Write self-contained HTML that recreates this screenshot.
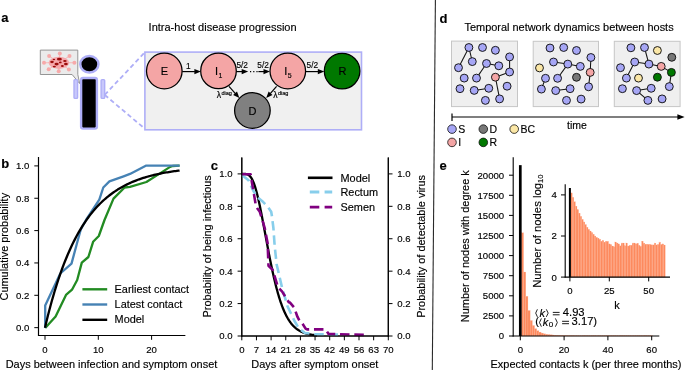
<!DOCTYPE html>
<html><head><meta charset="utf-8"><style>
html,body{margin:0;padding:0;background:#fff;}
svg{display:block;will-change:transform;}
text{font-family:"Liberation Sans", sans-serif;stroke:currentColor;stroke-width:0.15px;}

</style></head><body>
<svg width="685" height="370" viewBox="0 0 685 370">
<rect x="0" y="0" width="685" height="370" fill="#fff"/>
<text x="1.20" y="21.60" font-size="13" text-anchor="start" font-weight="bold" fill="#000" >a</text>
<text x="148.60" y="30.90" font-size="11" text-anchor="start" fill="#000" >Intra-host disease progression</text>
<path d="M40.3,50.1 H77.8 V74.5 L79.7,83.6 L72.1,74.5 H40.3 Z" fill="#ebebeb" stroke="#8a8a8a" stroke-width="0.9"/>
<line x1="59.30" y1="62.60" x2="49.10" y2="56.00" stroke="#f7a9a9" stroke-width="0.8" />
<line x1="59.30" y1="62.60" x2="59.80" y2="53.50" stroke="#f7a9a9" stroke-width="0.8" />
<line x1="59.30" y1="62.60" x2="69.50" y2="56.00" stroke="#f7a9a9" stroke-width="0.8" />
<line x1="59.30" y1="62.60" x2="44.00" y2="62.80" stroke="#f7a9a9" stroke-width="0.8" />
<line x1="59.30" y1="62.60" x2="74.40" y2="62.80" stroke="#f7a9a9" stroke-width="0.8" />
<line x1="59.30" y1="62.60" x2="48.70" y2="69.20" stroke="#f7a9a9" stroke-width="0.8" />
<line x1="59.30" y1="62.60" x2="58.70" y2="71.30" stroke="#f7a9a9" stroke-width="0.8" />
<line x1="59.30" y1="62.60" x2="68.90" y2="69.40" stroke="#f7a9a9" stroke-width="0.8" />
<circle cx="49.1" cy="56" r="2.0" fill="#f7a9a9"/>
<circle cx="59.8" cy="53.5" r="2.0" fill="#f7a9a9"/>
<circle cx="69.5" cy="56" r="2.0" fill="#f7a9a9"/>
<circle cx="44" cy="62.8" r="2.0" fill="#f7a9a9"/>
<circle cx="74.4" cy="62.8" r="2.0" fill="#f7a9a9"/>
<circle cx="48.7" cy="69.2" r="2.0" fill="#f7a9a9"/>
<circle cx="58.7" cy="71.3" r="2.0" fill="#f7a9a9"/>
<circle cx="68.9" cy="69.4" r="2.0" fill="#f7a9a9"/>
<ellipse cx="58.9" cy="62.8" rx="10.3" ry="6.1" fill="#f6a8ac"/>
<ellipse cx="53.9" cy="59.5" rx="1.3" ry="0.8" fill="#9b0d0d"/>
<ellipse cx="59.4" cy="59.2" rx="2.5" ry="1.35" fill="#9b0d0d"/>
<ellipse cx="64.9" cy="61.0" rx="1.8" ry="1.1" fill="#9b0d0d"/>
<ellipse cx="52.0" cy="62.0" rx="1.8" ry="1.15" fill="#9b0d0d"/>
<ellipse cx="60.3" cy="62.4" rx="1.4" ry="0.85" fill="#9b0d0d"/>
<ellipse cx="56.6" cy="64.1" rx="2.1" ry="1.45" fill="#9b0d0d"/>
<ellipse cx="65.9" cy="64.1" rx="1.9" ry="1.25" fill="#9b0d0d"/>
<ellipse cx="54.3" cy="66.6" rx="1.6" ry="0.95" fill="#9b0d0d"/>
<ellipse cx="62.4" cy="66.0" rx="1.5" ry="1.05" fill="#9b0d0d"/>
<ellipse cx="89.35" cy="64.2" rx="9.1" ry="8.3" fill="#000" stroke="#aeaef7" stroke-width="2.5"/>
<rect x="81.1" y="78.0" width="15.8" height="50.6" rx="2" fill="#000" stroke="#aeaef7" stroke-width="2.4"/>
<rect x="74.0" y="79.6" width="3.6" height="18.8" rx="1.0" fill="#c8c8fb" stroke="#aeaef7" stroke-width="1.4"/>
<rect x="101.1" y="79.6" width="3.6" height="18.8" rx="1.0" fill="#c8c8fb" stroke="#aeaef7" stroke-width="1.4"/>
<line x1="104.70" y1="94.90" x2="144.90" y2="52.30" stroke="#aeaef7" stroke-width="1.8" stroke-dasharray="4.5,3"/>
<line x1="104.70" y1="94.90" x2="144.90" y2="128.80" stroke="#aeaef7" stroke-width="1.8" stroke-dasharray="4.5,3"/>
<rect x="144.9" y="52.1" width="216.6" height="77.7" fill="#f0f0f0" stroke="#aeaef7" stroke-width="1.6"/>
<line x1="182.20" y1="71.60" x2="194.90" y2="71.60" stroke="#000" stroke-width="1.2" />
<path d="M200.90,71.60 L194.40,74.20 L194.40,69.00 Z" fill="#000"/>
<line x1="236.20" y1="71.60" x2="242.20" y2="71.60" stroke="#000" stroke-width="1.2" />
<path d="M248.20,71.60 L241.70,74.20 L241.70,69.00 Z" fill="#000"/>
<line x1="250" y1="71.6" x2="258" y2="71.6" stroke="#000" stroke-width="1.2" stroke-dasharray="1.2,2.0"/>
<line x1="258.40" y1="71.60" x2="264.00" y2="71.60" stroke="#000" stroke-width="1.2" />
<path d="M270.00,71.60 L263.50,74.20 L263.50,69.00 Z" fill="#000"/>
<line x1="305.60" y1="71.60" x2="318.30" y2="71.60" stroke="#000" stroke-width="1.2" />
<path d="M324.30,71.60 L317.80,74.20 L317.80,69.00 Z" fill="#000"/>
<line x1="229.00" y1="86.40" x2="235.39" y2="93.53" stroke="#000" stroke-width="1.2" />
<path d="M239.40,98.00 L233.13,94.90 L237.00,91.42 Z" fill="#000"/>
<line x1="276.60" y1="86.40" x2="270.21" y2="93.53" stroke="#000" stroke-width="1.2" />
<path d="M266.20,98.00 L268.60,91.42 L272.47,94.90 Z" fill="#000"/>
<circle cx="164.3" cy="71.0" r="17.8" fill="#f4a5a5" stroke="#000" stroke-width="1.25"/>
<circle cx="218.5" cy="70.9" r="17.8" fill="#f4a5a5" stroke="#000" stroke-width="1.25"/>
<circle cx="287.8" cy="71.0" r="17.8" fill="#f4a5a5" stroke="#000" stroke-width="1.25"/>
<circle cx="342.1" cy="71.1" r="17.8" fill="#007800" stroke="#000" stroke-width="1.25"/>
<circle cx="252.4" cy="110.5" r="17.8" fill="#808080" stroke="#000" stroke-width="1.25"/>
<text x="164.30" y="75.40" font-size="11" text-anchor="middle" fill="#000" >E</text>
<text x="218.00" y="75.40" font-size="11" text-anchor="end" fill="#000" >I</text>
<text x="218.60" y="77.60" font-size="6.9" text-anchor="start" fill="#000" >1</text>
<text x="287.30" y="75.40" font-size="11" text-anchor="end" fill="#000" >I</text>
<text x="287.70" y="77.80" font-size="7.0" text-anchor="start" fill="#000" >5</text>
<text x="342.40" y="75.00" font-size="11" text-anchor="middle" fill="#000" >R</text>
<text x="252.40" y="115.00" font-size="11" text-anchor="middle" fill="#000" >D</text>
<text x="188.30" y="68.60" font-size="8.3" text-anchor="middle" fill="#000" >1</text>
<text x="242.20" y="68.40" font-size="8.3" text-anchor="middle" fill="#000" >5/2</text>
<text x="263.10" y="68.40" font-size="8.3" text-anchor="middle" fill="#000" >5/2</text>
<text x="312.30" y="68.40" font-size="8.3" text-anchor="middle" fill="#000" >5/2</text>
<text x="216.70" y="97.60" font-size="8.6" text-anchor="start" fill="#000" >&#955;</text>
<text x="221.40" y="94.80" font-size="5.6" text-anchor="start" fill="#000" >diag</text>
<text x="273.20" y="97.60" font-size="8.6" text-anchor="start" fill="#000" >&#955;</text>
<text x="277.90" y="94.80" font-size="5.6" text-anchor="start" fill="#000" >diag</text>
<text x="1.30" y="168.00" font-size="13" text-anchor="start" font-weight="bold" fill="#000" >b</text>
<line x1="38.50" y1="157.00" x2="38.50" y2="336.00" stroke="#000" stroke-width="1.1" />
<line x1="38.00" y1="335.50" x2="185.20" y2="335.50" stroke="#000" stroke-width="1.1" />
<line x1="34.30" y1="327.65" x2="38.50" y2="327.65" stroke="#000" stroke-width="1.0" />
<text x="29.30" y="331.05" font-size="9.6" text-anchor="end" fill="#000"  class="tk">0.0</text>
<line x1="34.30" y1="295.30" x2="38.50" y2="295.30" stroke="#000" stroke-width="1.0" />
<text x="29.30" y="298.70" font-size="9.6" text-anchor="end" fill="#000"  class="tk">0.2</text>
<line x1="34.30" y1="262.95" x2="38.50" y2="262.95" stroke="#000" stroke-width="1.0" />
<text x="29.30" y="266.35" font-size="9.6" text-anchor="end" fill="#000"  class="tk">0.4</text>
<line x1="34.30" y1="230.60" x2="38.50" y2="230.60" stroke="#000" stroke-width="1.0" />
<text x="29.30" y="234.00" font-size="9.6" text-anchor="end" fill="#000"  class="tk">0.6</text>
<line x1="34.30" y1="198.25" x2="38.50" y2="198.25" stroke="#000" stroke-width="1.0" />
<text x="29.30" y="201.65" font-size="9.6" text-anchor="end" fill="#000"  class="tk">0.8</text>
<line x1="34.30" y1="165.90" x2="38.50" y2="165.90" stroke="#000" stroke-width="1.0" />
<text x="29.30" y="169.30" font-size="9.6" text-anchor="end" fill="#000"  class="tk">1.0</text>
<line x1="45.00" y1="335.50" x2="45.00" y2="339.80" stroke="#000" stroke-width="1.0" />
<text x="45.00" y="352.60" font-size="9.6" text-anchor="middle" fill="#000"  class="tk">0</text>
<line x1="98.30" y1="335.50" x2="98.30" y2="339.80" stroke="#000" stroke-width="1.0" />
<text x="98.30" y="352.60" font-size="9.6" text-anchor="middle" fill="#000"  class="tk">10</text>
<line x1="151.60" y1="335.50" x2="151.60" y2="339.80" stroke="#000" stroke-width="1.0" />
<text x="151.60" y="352.60" font-size="9.6" text-anchor="middle" fill="#000"  class="tk">20</text>
<text x="111.50" y="367.50" font-size="10.95" text-anchor="middle" fill="#000" >Days between infection and symptom onset</text>
<text transform="translate(8.2,246.7) rotate(-90)" x="0" y="0" font-size="10.95" text-anchor="middle">Cumulative probability</text>
<polyline points="45.20,327.90 55.60,316.40 66.00,294.90 72.00,289.70 77.20,280.00 81.80,262.60 88.40,257.00 93.10,241.80 98.80,236.00 104.50,220.00 113.50,198.60 124.60,187.50 130.00,186.90 146.40,182.00 159.20,173.90 170.10,166.90 172.60,166.00 179.60,165.70" fill="none" stroke="#228b22" stroke-width="2.3" stroke-linejoin="round" />
<polyline points="45.20,327.90 45.20,305.50 60.30,273.50 71.50,263.60 78.00,239.50 80.80,229.50 86.00,220.00 99.30,199.60 103.30,187.50 109.40,181.40 123.60,176.30 130.00,173.90 145.80,165.70 179.60,165.70" fill="none" stroke="#4682b4" stroke-width="2.3" stroke-linejoin="round" />
<polyline points="45.00,327.65 46.35,322.00 47.69,316.54 49.04,311.28 50.38,306.20 51.73,301.30 53.07,296.57 54.42,292.00 55.77,287.60 57.11,283.35 58.46,279.24 59.80,275.28 61.15,271.46 62.50,267.77 63.84,264.21 65.19,260.78 66.53,257.46 67.88,254.26 69.22,251.18 70.57,248.20 71.92,245.32 73.26,242.55 74.61,239.87 75.95,237.29 77.30,234.79 78.65,232.38 79.99,230.06 81.34,227.82 82.68,225.66 84.03,223.57 85.37,221.55 86.72,219.61 88.07,217.73 89.41,215.92 90.76,214.17 92.10,212.49 93.45,210.86 94.80,209.29 96.14,207.77 97.49,206.31 98.83,204.90 100.18,203.54 101.52,202.22 102.87,200.95 104.22,199.73 105.56,198.55 106.91,197.40 108.25,196.30 109.60,195.24 110.95,194.22 112.29,193.23 113.64,192.27 114.98,191.35 116.33,190.46 117.67,189.60 119.02,188.78 120.37,187.98 121.71,187.20 123.06,186.46 124.40,185.74 125.75,185.05 127.10,184.38 128.44,183.73 129.79,183.11 131.13,182.51 132.48,181.93 133.82,181.37 135.17,180.83 136.52,180.31 137.86,179.80 139.21,179.32 140.55,178.85 141.90,178.40 143.25,177.96 144.59,177.54 145.94,177.13 147.28,176.74 148.63,176.36 149.97,176.00 151.32,175.64 152.67,175.30 154.01,174.97 155.36,174.66 156.70,174.35 158.05,174.06 159.40,173.77 160.74,173.50 162.09,173.23 163.43,172.97 164.78,172.73 166.12,172.49 167.47,172.26 168.82,172.04 170.16,171.82 171.51,171.61 172.85,171.42 174.20,171.22 175.55,171.04 176.89,170.86 178.24,170.68 179.58,170.52" fill="none" stroke="#000" stroke-width="2.3" stroke-linejoin="round" />
<line x1="38.50" y1="157.00" x2="38.50" y2="336.00" stroke="#000" stroke-width="1.1" />
<line x1="38.00" y1="335.50" x2="185.20" y2="335.50" stroke="#000" stroke-width="1.1" />
<line x1="82.40" y1="289.30" x2="107.20" y2="289.30" stroke="#228b22" stroke-width="2.4" />
<line x1="82.40" y1="304.50" x2="107.20" y2="304.50" stroke="#4682b4" stroke-width="2.4" />
<line x1="82.40" y1="319.80" x2="107.20" y2="319.80" stroke="#000" stroke-width="2.4" />
<text x="114.60" y="292.70" font-size="10.9" text-anchor="start" fill="#000" >Earliest contact</text>
<text x="114.60" y="307.90" font-size="10.9" text-anchor="start" fill="#000" >Latest contact</text>
<text x="114.60" y="323.30" font-size="10.9" text-anchor="start" fill="#000" >Model</text>
<text x="210.80" y="169.50" font-size="13" text-anchor="start" font-weight="bold" fill="#000" >c</text>
<line x1="241.80" y1="157.50" x2="241.80" y2="336.50" stroke="#000" stroke-width="1.1" />
<line x1="388.30" y1="157.50" x2="388.30" y2="336.50" stroke="#000" stroke-width="1.1" />
<line x1="241.30" y1="336.00" x2="388.80" y2="336.00" stroke="#000" stroke-width="1.1" />
<line x1="237.60" y1="336.00" x2="241.80" y2="336.00" stroke="#000" stroke-width="1.0" />
<text x="232.60" y="339.40" font-size="9.6" text-anchor="end" fill="#000"  class="tk">0.0</text>
<line x1="388.30" y1="336.00" x2="392.50" y2="336.00" stroke="#000" stroke-width="1.0" />
<text x="397.20" y="339.40" font-size="9.6" text-anchor="start" fill="#000"  class="tk">0.0</text>
<line x1="237.60" y1="303.58" x2="241.80" y2="303.58" stroke="#000" stroke-width="1.0" />
<text x="232.60" y="306.98" font-size="9.6" text-anchor="end" fill="#000"  class="tk">0.2</text>
<line x1="388.30" y1="303.58" x2="392.50" y2="303.58" stroke="#000" stroke-width="1.0" />
<text x="397.20" y="306.98" font-size="9.6" text-anchor="start" fill="#000"  class="tk">0.2</text>
<line x1="237.60" y1="271.16" x2="241.80" y2="271.16" stroke="#000" stroke-width="1.0" />
<text x="232.60" y="274.56" font-size="9.6" text-anchor="end" fill="#000"  class="tk">0.4</text>
<line x1="388.30" y1="271.16" x2="392.50" y2="271.16" stroke="#000" stroke-width="1.0" />
<text x="397.20" y="274.56" font-size="9.6" text-anchor="start" fill="#000"  class="tk">0.4</text>
<line x1="237.60" y1="238.74" x2="241.80" y2="238.74" stroke="#000" stroke-width="1.0" />
<text x="232.60" y="242.14" font-size="9.6" text-anchor="end" fill="#000"  class="tk">0.6</text>
<line x1="388.30" y1="238.74" x2="392.50" y2="238.74" stroke="#000" stroke-width="1.0" />
<text x="397.20" y="242.14" font-size="9.6" text-anchor="start" fill="#000"  class="tk">0.6</text>
<line x1="237.60" y1="206.32" x2="241.80" y2="206.32" stroke="#000" stroke-width="1.0" />
<text x="232.60" y="209.72" font-size="9.6" text-anchor="end" fill="#000"  class="tk">0.8</text>
<line x1="388.30" y1="206.32" x2="392.50" y2="206.32" stroke="#000" stroke-width="1.0" />
<text x="397.20" y="209.72" font-size="9.6" text-anchor="start" fill="#000"  class="tk">0.8</text>
<line x1="237.60" y1="173.90" x2="241.80" y2="173.90" stroke="#000" stroke-width="1.0" />
<text x="232.60" y="177.30" font-size="9.6" text-anchor="end" fill="#000"  class="tk">1.0</text>
<line x1="388.30" y1="173.90" x2="392.50" y2="173.90" stroke="#000" stroke-width="1.0" />
<text x="397.20" y="177.30" font-size="9.6" text-anchor="start" fill="#000"  class="tk">1.0</text>
<line x1="241.80" y1="336.00" x2="241.80" y2="340.30" stroke="#000" stroke-width="1.0" />
<text x="241.80" y="352.60" font-size="9.6" text-anchor="middle" fill="#000"  class="tk">0</text>
<line x1="256.45" y1="336.00" x2="256.45" y2="340.30" stroke="#000" stroke-width="1.0" />
<text x="256.45" y="352.60" font-size="9.6" text-anchor="middle" fill="#000"  class="tk">7</text>
<line x1="271.10" y1="336.00" x2="271.10" y2="340.30" stroke="#000" stroke-width="1.0" />
<text x="271.10" y="352.60" font-size="9.6" text-anchor="middle" fill="#000"  class="tk">14</text>
<line x1="285.75" y1="336.00" x2="285.75" y2="340.30" stroke="#000" stroke-width="1.0" />
<text x="285.75" y="352.60" font-size="9.6" text-anchor="middle" fill="#000"  class="tk">21</text>
<line x1="300.40" y1="336.00" x2="300.40" y2="340.30" stroke="#000" stroke-width="1.0" />
<text x="300.40" y="352.60" font-size="9.6" text-anchor="middle" fill="#000"  class="tk">28</text>
<line x1="315.05" y1="336.00" x2="315.05" y2="340.30" stroke="#000" stroke-width="1.0" />
<text x="315.05" y="352.60" font-size="9.6" text-anchor="middle" fill="#000"  class="tk">35</text>
<line x1="329.70" y1="336.00" x2="329.70" y2="340.30" stroke="#000" stroke-width="1.0" />
<text x="329.70" y="352.60" font-size="9.6" text-anchor="middle" fill="#000"  class="tk">42</text>
<line x1="344.35" y1="336.00" x2="344.35" y2="340.30" stroke="#000" stroke-width="1.0" />
<text x="344.35" y="352.60" font-size="9.6" text-anchor="middle" fill="#000"  class="tk">49</text>
<line x1="359.00" y1="336.00" x2="359.00" y2="340.30" stroke="#000" stroke-width="1.0" />
<text x="359.00" y="352.60" font-size="9.6" text-anchor="middle" fill="#000"  class="tk">56</text>
<line x1="373.65" y1="336.00" x2="373.65" y2="340.30" stroke="#000" stroke-width="1.0" />
<text x="373.65" y="352.60" font-size="9.6" text-anchor="middle" fill="#000"  class="tk">63</text>
<line x1="388.30" y1="336.00" x2="388.30" y2="340.30" stroke="#000" stroke-width="1.0" />
<text x="388.30" y="352.60" font-size="9.6" text-anchor="middle" fill="#000"  class="tk">70</text>
<text x="314.80" y="367.50" font-size="10.95" text-anchor="middle" fill="#000" >Days after symptom onset</text>
<text transform="translate(211.3,246.3) rotate(-90)" x="0" y="0" font-size="10.95" text-anchor="middle">Probability of being infectious</text>
<text transform="translate(424.9,246.4) rotate(-90)" x="0" y="0" font-size="10.95" text-anchor="middle">Probability of detectable virus</text>
<polyline points="241.80,173.90 242.22,173.90 242.64,173.90 243.06,173.90 243.47,173.90 243.89,173.91 244.31,173.91 244.73,173.93 245.15,173.95 245.57,173.99 245.99,174.04 246.40,174.11 246.82,174.21 247.24,174.33 247.66,174.49 248.08,174.69 248.50,174.93 248.92,175.22 249.33,175.55 249.75,175.95 250.17,176.40 250.59,176.91 251.01,177.49 251.43,178.13 251.85,178.85 252.26,179.64 252.68,180.49 253.10,181.43 253.52,182.44 253.94,183.52 254.36,184.67 254.78,185.90 255.19,187.21 255.61,188.58 256.03,190.03 256.45,191.54 256.87,193.12 257.29,194.76 257.71,196.47 258.12,198.23 258.54,200.05 258.96,201.92 259.38,203.85 259.80,205.81 260.22,207.83 260.64,209.88 261.05,211.96 261.47,214.08 261.89,216.23 262.31,218.41 262.73,220.60 263.15,222.82 263.57,225.05 263.98,227.29 264.40,229.55 264.82,231.80 265.24,234.07 265.66,236.33 266.08,238.59 266.50,240.84 266.91,243.08 267.33,245.32 267.75,247.54 268.17,249.75 268.59,251.93 269.01,254.10 269.43,256.25 269.84,258.38 270.26,260.48 270.68,262.55 271.10,264.60 271.52,266.61 271.94,268.60 272.36,270.56 272.77,272.48 273.19,274.37 273.61,276.22 274.03,278.05 274.45,279.83 274.87,281.58 275.29,283.30 275.70,284.98 276.12,286.62 276.54,288.22 276.96,289.79 277.38,291.32 277.80,292.82 278.22,294.28 278.64,295.70 279.05,297.08 279.47,298.43 279.89,299.74 280.31,301.02 280.73,302.26 281.15,303.47 281.57,304.64 281.98,305.78 282.40,306.89 282.82,307.96 283.24,309.00 283.66,310.01 284.08,310.98 284.50,311.93 284.91,312.85 285.33,313.73 285.75,314.59 286.17,315.42 286.59,316.23 287.01,317.00 287.43,317.75 287.84,318.48 288.26,319.17 288.68,319.85 289.10,320.50 289.52,321.13 289.94,321.73 290.36,322.32 290.77,322.88 291.19,323.42 291.61,323.95 292.03,324.45 292.45,324.93 292.87,325.40 293.29,325.85 293.70,326.28 294.12,326.69 294.54,327.09 294.96,327.47 295.38,327.84 295.80,328.19 296.22,328.53 296.63,328.86 297.05,329.17 297.47,329.47 297.89,329.76 298.31,330.04 298.73,330.30 299.15,330.56 299.56,330.80 299.98,331.03 300.40,331.26 300.82,331.47 301.24,331.68 301.66,331.87 302.08,332.06 302.49,332.24 302.91,332.42 303.33,332.58 303.75,332.74 304.17,332.89 304.59,333.03 305.01,333.17 305.42,333.30 305.84,333.43 306.26,333.55 306.68,333.67 307.10,333.78 307.52,333.88 307.94,333.98 308.35,334.08 308.77,334.17 309.19,334.26 309.61,334.34 310.03,334.42 310.45,334.50 310.87,334.57 311.28,334.64 311.70,334.71 312.12,334.77 312.54,334.83 312.96,334.89 313.38,334.94 313.80,334.99 314.21,335.04 314.63,335.09 315.05,335.13 315.47,335.18 315.89,335.22 316.31,335.26 316.73,335.29 317.14,335.33" fill="none" stroke="#000" stroke-width="2.3" stroke-linejoin="round" />
<polyline points="242.00,174.90 248.50,180.20 250.90,185.80 253.30,190.70 257.40,197.20 262.30,201.20 267.90,206.90 271.20,211.80 272.00,216.60 273.40,228.00 274.60,245.00 276.60,264.30 282.00,287.30 287.40,306.00 290.00,311.50 294.50,321.00 299.00,328.50 304.90,333.00 315.00,334.20 339.00,334.60" fill="none" stroke="#87ceeb" stroke-width="2.6" stroke-linejoin="round" stroke-dasharray="9.5,4.8"/>
<polyline points="242.00,174.30 250.60,174.30 251.70,181.00 254.20,195.60 255.80,205.30 257.40,208.50 259.80,211.80 262.30,219.90 264.70,228.00 267.00,240.00 267.60,243.00 268.50,265.70 272.60,269.70 278.00,287.30 282.00,291.40 288.80,302.20 290.00,302.60 294.20,307.60 297.40,316.70 299.60,321.00 301.90,322.70 305.60,328.60 307.10,329.40 325.70,329.40 328.60,334.00 365.80,334.90" fill="none" stroke="#800080" stroke-width="2.6" stroke-linejoin="round" stroke-dasharray="9.5,4.8"/>
<line x1="241.80" y1="157.50" x2="241.80" y2="336.50" stroke="#000" stroke-width="1.1" />
<line x1="388.30" y1="157.50" x2="388.30" y2="336.50" stroke="#000" stroke-width="1.1" />
<line x1="241.30" y1="336.00" x2="388.80" y2="336.00" stroke="#000" stroke-width="1.1" />
<line x1="307.90" y1="177.80" x2="332.50" y2="177.80" stroke="#000" stroke-width="2.6" />
<line x1="309.80" y1="192.00" x2="332.20" y2="192.00" stroke="#87ceeb" stroke-width="2.8" stroke-dasharray="9.5,5.3"/>
<line x1="309.80" y1="207.10" x2="332.20" y2="207.10" stroke="#800080" stroke-width="2.8" stroke-dasharray="9.5,5.3"/>
<text x="340.50" y="181.60" font-size="10.9" text-anchor="start" fill="#000" >Model</text>
<text x="340.50" y="195.80" font-size="10.9" text-anchor="start" fill="#000" >Rectum</text>
<text x="340.50" y="210.90" font-size="10.9" text-anchor="start" fill="#000" >Semen</text>
<line x1="435.40" y1="0.00" x2="432.30" y2="370.00" stroke="#2a2a2a" stroke-width="1.1" />
<text x="439.60" y="23.10" font-size="13" text-anchor="start" font-weight="bold" fill="#000" >d</text>
<text x="464.50" y="31.20" font-size="10.95" text-anchor="start" fill="#000" >Temporal network dynamics between hosts</text>
<rect x="451.5" y="41.099999999999994" width="66" height="65.5" fill="#efefef" stroke="#c6c6c6" stroke-width="1"/>
<line x1="468.90" y1="47.50" x2="458.50" y2="67.70" stroke="#111" stroke-width="1.05" />
<line x1="468.90" y1="47.50" x2="472.30" y2="61.60" stroke="#111" stroke-width="1.05" />
<line x1="486.50" y1="63.50" x2="498.80" y2="65.80" stroke="#111" stroke-width="1.05" />
<line x1="486.50" y1="63.50" x2="476.50" y2="78.10" stroke="#111" stroke-width="1.05" />
<line x1="509.60" y1="56.90" x2="509.60" y2="72.00" stroke="#111" stroke-width="1.05" />
<line x1="509.60" y1="72.00" x2="495.40" y2="77.20" stroke="#111" stroke-width="1.05" />
<line x1="495.40" y1="77.20" x2="499.60" y2="98.90" stroke="#111" stroke-width="1.05" />
<line x1="474.20" y1="90.40" x2="488.80" y2="88.30" stroke="#111" stroke-width="1.05" />
<circle cx="468.9" cy="47.5" r="3.95" fill="#a6a6f5" stroke="#111" stroke-width="0.95"/>
<circle cx="482.5" cy="47.5" r="3.95" fill="#a6a6f5" stroke="#111" stroke-width="0.95"/>
<circle cx="495.4" cy="50.3" r="3.95" fill="#a6a6f5" stroke="#111" stroke-width="0.95"/>
<circle cx="509.6" cy="56.9" r="3.95" fill="#a6a6f5" stroke="#111" stroke-width="0.95"/>
<circle cx="472.3" cy="61.6" r="3.95" fill="#a6a6f5" stroke="#111" stroke-width="0.95"/>
<circle cx="486.5" cy="63.5" r="3.95" fill="#a6a6f5" stroke="#111" stroke-width="0.95"/>
<circle cx="498.8" cy="65.8" r="3.95" fill="#a6a6f5" stroke="#111" stroke-width="0.95"/>
<circle cx="458.5" cy="67.7" r="3.95" fill="#a6a6f5" stroke="#111" stroke-width="0.95"/>
<circle cx="509.6" cy="72" r="3.95" fill="#a6a6f5" stroke="#111" stroke-width="0.95"/>
<circle cx="495.4" cy="77.2" r="3.95" fill="#f4a5a5" stroke="#111" stroke-width="0.95"/>
<circle cx="464.2" cy="78.1" r="3.95" fill="#a6a6f5" stroke="#111" stroke-width="0.95"/>
<circle cx="476.5" cy="78.1" r="3.95" fill="#a6a6f5" stroke="#111" stroke-width="0.95"/>
<circle cx="460" cy="88.7" r="3.95" fill="#a6a6f5" stroke="#111" stroke-width="0.95"/>
<circle cx="474.2" cy="90.4" r="3.95" fill="#a6a6f5" stroke="#111" stroke-width="0.95"/>
<circle cx="488.8" cy="88.3" r="3.95" fill="#a6a6f5" stroke="#111" stroke-width="0.95"/>
<circle cx="507.1" cy="86.2" r="3.95" fill="#a6a6f5" stroke="#111" stroke-width="0.95"/>
<circle cx="485.4" cy="100.4" r="3.95" fill="#a6a6f5" stroke="#111" stroke-width="0.95"/>
<circle cx="499.6" cy="98.9" r="3.95" fill="#a6a6f5" stroke="#111" stroke-width="0.95"/>
<rect x="533.2" y="41.3" width="65.3" height="65.3" fill="#efefef" stroke="#c6c6c6" stroke-width="1"/>
<line x1="553.50" y1="62.00" x2="567.80" y2="64.10" stroke="#111" stroke-width="1.05" />
<line x1="567.80" y1="64.10" x2="580.30" y2="66.40" stroke="#111" stroke-width="1.05" />
<line x1="567.80" y1="64.10" x2="557.60" y2="78.30" stroke="#111" stroke-width="1.05" />
<line x1="545.50" y1="78.30" x2="541.40" y2="89.10" stroke="#111" stroke-width="1.05" />
<line x1="555.70" y1="90.60" x2="570.10" y2="88.70" stroke="#111" stroke-width="1.05" />
<line x1="590.90" y1="57.50" x2="590.20" y2="72.40" stroke="#111" stroke-width="1.05" />
<line x1="590.20" y1="72.40" x2="588.60" y2="86.80" stroke="#111" stroke-width="1.05" />
<circle cx="550" cy="48" r="3.95" fill="#a6a6f5" stroke="#111" stroke-width="0.95"/>
<circle cx="563.7" cy="47.5" r="3.95" fill="#a6a6f5" stroke="#111" stroke-width="0.95"/>
<circle cx="576.5" cy="50.5" r="3.95" fill="#a6a6f5" stroke="#111" stroke-width="0.95"/>
<circle cx="590.9" cy="57.5" r="3.95" fill="#a6a6f5" stroke="#111" stroke-width="0.95"/>
<circle cx="553.5" cy="62" r="3.95" fill="#a6a6f5" stroke="#111" stroke-width="0.95"/>
<circle cx="567.8" cy="64.1" r="3.95" fill="#a6a6f5" stroke="#111" stroke-width="0.95"/>
<circle cx="580.3" cy="66.4" r="3.95" fill="#a6a6f5" stroke="#111" stroke-width="0.95"/>
<circle cx="539.5" cy="67.9" r="3.95" fill="#fbe7a6" stroke="#111" stroke-width="0.95"/>
<circle cx="590.2" cy="72.4" r="3.95" fill="#f4a5a5" stroke="#111" stroke-width="0.95"/>
<circle cx="545.5" cy="78.3" r="3.95" fill="#a6a6f5" stroke="#111" stroke-width="0.95"/>
<circle cx="557.6" cy="78.3" r="3.95" fill="#a6a6f5" stroke="#111" stroke-width="0.95"/>
<circle cx="576.5" cy="77.3" r="3.95" fill="#777777" stroke="#111" stroke-width="0.95"/>
<circle cx="541.4" cy="89.1" r="3.95" fill="#a6a6f5" stroke="#111" stroke-width="0.95"/>
<circle cx="555.7" cy="90.6" r="3.95" fill="#a6a6f5" stroke="#111" stroke-width="0.95"/>
<circle cx="570.1" cy="88.7" r="3.95" fill="#a6a6f5" stroke="#111" stroke-width="0.95"/>
<circle cx="588.6" cy="86.8" r="3.95" fill="#a6a6f5" stroke="#111" stroke-width="0.95"/>
<circle cx="566.5" cy="100.4" r="3.95" fill="#a6a6f5" stroke="#111" stroke-width="0.95"/>
<circle cx="581.1" cy="99.1" r="3.95" fill="#a6a6f5" stroke="#111" stroke-width="0.95"/>
<rect x="614.3" y="41.3" width="65.8" height="65.3" fill="#efefef" stroke="#c6c6c6" stroke-width="1"/>
<line x1="644.50" y1="47.50" x2="648.90" y2="64.10" stroke="#111" stroke-width="1.05" />
<line x1="634.70" y1="62.00" x2="648.90" y2="64.10" stroke="#111" stroke-width="1.05" />
<line x1="648.90" y1="64.10" x2="661.20" y2="66.40" stroke="#111" stroke-width="1.05" />
<line x1="634.70" y1="62.00" x2="626.40" y2="78.10" stroke="#111" stroke-width="1.05" />
<line x1="661.20" y1="66.40" x2="671.40" y2="72.40" stroke="#111" stroke-width="1.05" />
<line x1="671.40" y1="72.40" x2="669.30" y2="86.60" stroke="#111" stroke-width="1.05" />
<line x1="636.60" y1="90.60" x2="651.20" y2="88.30" stroke="#111" stroke-width="1.05" />
<line x1="636.60" y1="90.60" x2="647.90" y2="100.40" stroke="#111" stroke-width="1.05" />
<circle cx="630.9" cy="47.8" r="3.95" fill="#a6a6f5" stroke="#111" stroke-width="0.95"/>
<circle cx="644.5" cy="47.5" r="3.95" fill="#a6a6f5" stroke="#111" stroke-width="0.95"/>
<circle cx="657.4" cy="50.5" r="3.95" fill="#fbe7a6" stroke="#111" stroke-width="0.95"/>
<circle cx="671.8" cy="57.3" r="3.95" fill="#777777" stroke="#111" stroke-width="0.95"/>
<circle cx="634.7" cy="62" r="3.95" fill="#a6a6f5" stroke="#111" stroke-width="0.95"/>
<circle cx="648.9" cy="64.1" r="3.95" fill="#a6a6f5" stroke="#111" stroke-width="0.95"/>
<circle cx="661.2" cy="66.4" r="3.95" fill="#f4a5a5" stroke="#111" stroke-width="0.95"/>
<circle cx="620.5" cy="67.7" r="3.95" fill="#a6a6f5" stroke="#111" stroke-width="0.95"/>
<circle cx="671.4" cy="72.4" r="3.95" fill="#007800" stroke="#111" stroke-width="0.95"/>
<circle cx="626.4" cy="78.1" r="3.95" fill="#a6a6f5" stroke="#111" stroke-width="0.95"/>
<circle cx="638.5" cy="78.1" r="3.95" fill="#fbe7a6" stroke="#111" stroke-width="0.95"/>
<circle cx="657.4" cy="77.2" r="3.95" fill="#007800" stroke="#111" stroke-width="0.95"/>
<circle cx="622.4" cy="88.7" r="3.95" fill="#a6a6f5" stroke="#111" stroke-width="0.95"/>
<circle cx="636.6" cy="90.6" r="3.95" fill="#a6a6f5" stroke="#111" stroke-width="0.95"/>
<circle cx="651.2" cy="88.3" r="3.95" fill="#a6a6f5" stroke="#111" stroke-width="0.95"/>
<circle cx="669.3" cy="86.6" r="3.95" fill="#a6a6f5" stroke="#111" stroke-width="0.95"/>
<circle cx="647.9" cy="100.4" r="3.95" fill="#a6a6f5" stroke="#111" stroke-width="0.95"/>
<circle cx="662.1" cy="98.9" r="3.95" fill="#a6a6f5" stroke="#111" stroke-width="0.95"/>
<line x1="452.00" y1="117.00" x2="678.50" y2="117.00" stroke="#000" stroke-width="1.2" />
<line x1="452.00" y1="113.40" x2="452.00" y2="121.10" stroke="#000" stroke-width="1.2" />
<path d="M684.6,117.0 L677.4,114.2 L677.4,119.8 Z" fill="#000"/>
<text x="577.00" y="128.70" font-size="10.5" text-anchor="middle" fill="#000" >time</text>
<circle cx="452.0" cy="129.1" r="4.3" fill="#a6a6f5" stroke="#111" stroke-width="0.8"/>
<text x="458.20" y="132.80" font-size="10.5" text-anchor="start" fill="#000" >S</text>
<circle cx="483.3" cy="129.1" r="4.3" fill="#777777" stroke="#111" stroke-width="0.8"/>
<text x="489.50" y="132.80" font-size="10.5" text-anchor="start" fill="#000" >D</text>
<circle cx="514.2" cy="129.1" r="4.3" fill="#fbe7a6" stroke="#111" stroke-width="0.8"/>
<text x="520.40" y="132.80" font-size="10.5" text-anchor="start" fill="#000" >BC</text>
<circle cx="452.0" cy="142.4" r="4.3" fill="#f4a5a5" stroke="#111" stroke-width="0.8"/>
<text x="458.20" y="146.10" font-size="10.5" text-anchor="start" fill="#000" >I</text>
<circle cx="483.3" cy="142.4" r="4.3" fill="#007800" stroke="#111" stroke-width="0.8"/>
<text x="489.50" y="146.10" font-size="10.5" text-anchor="start" fill="#000" >R</text>
<text x="439.60" y="170.10" font-size="13" text-anchor="start" font-weight="bold" fill="#000" >e</text>
<rect x="521.39" y="232.80" width="2.19" height="103.20" fill="#fd8a5e" stroke="#fdb093" stroke-width="0.25"/>
<rect x="523.58" y="272.00" width="2.19" height="64.00" fill="#fd8a5e" stroke="#fdb093" stroke-width="0.25"/>
<rect x="525.77" y="296.30" width="2.19" height="39.70" fill="#fd8a5e" stroke="#fdb093" stroke-width="0.25"/>
<rect x="527.96" y="310.50" width="2.19" height="25.50" fill="#fd8a5e" stroke="#fdb093" stroke-width="0.25"/>
<rect x="530.15" y="320.51" width="2.19" height="15.49" fill="#fd8a5e" stroke="#fdb093" stroke-width="0.25"/>
<rect x="532.34" y="325.54" width="2.19" height="10.46" fill="#fd8a5e" stroke="#fdb093" stroke-width="0.25"/>
<rect x="534.53" y="328.69" width="2.19" height="7.31" fill="#fd8a5e" stroke="#fdb093" stroke-width="0.25"/>
<rect x="536.72" y="330.78" width="2.19" height="5.22" fill="#fd8a5e" stroke="#fdb093" stroke-width="0.25"/>
<rect x="538.91" y="332.10" width="2.19" height="3.90" fill="#fd8a5e" stroke="#fdb093" stroke-width="0.25"/>
<rect x="541.10" y="333.08" width="2.19" height="2.92" fill="#fd8a5e" stroke="#fdb093" stroke-width="0.25"/>
<rect x="543.29" y="333.84" width="2.19" height="2.16" fill="#fd8a5e" stroke="#fdb093" stroke-width="0.25"/>
<rect x="545.48" y="334.30" width="2.19" height="1.70" fill="#fd8a5e" stroke="#fdb093" stroke-width="0.25"/>
<rect x="547.67" y="334.59" width="2.19" height="1.41" fill="#fd8a5e" stroke="#fdb093" stroke-width="0.25"/>
<rect x="549.86" y="334.81" width="2.19" height="1.19" fill="#fd8a5e" stroke="#fdb093" stroke-width="0.25"/>
<rect x="552.05" y="335.02" width="2.19" height="0.98" fill="#fd8a5e" stroke="#fdb093" stroke-width="0.25"/>
<rect x="554.24" y="335.20" width="2.19" height="0.80" fill="#fd8a5e" stroke="#fdb093" stroke-width="0.25"/>
<rect x="556.43" y="335.30" width="2.19" height="0.70" fill="#fd8a5e" stroke="#fdb093" stroke-width="0.25"/>
<rect x="558.62" y="335.36" width="2.19" height="0.64" fill="#fd8a5e" stroke="#fdb093" stroke-width="0.25"/>
<rect x="560.81" y="335.43" width="2.19" height="0.57" fill="#fd8a5e" stroke="#fdb093" stroke-width="0.25"/>
<rect x="563.00" y="335.55" width="2.19" height="0.45" fill="#fd8a5e" stroke="#fdb093" stroke-width="0.25"/>
<rect x="565.19" y="335.51" width="2.19" height="0.49" fill="#fd8a5e" stroke="#fdb093" stroke-width="0.25"/>
<rect x="567.38" y="335.59" width="2.19" height="0.41" fill="#fd8a5e" stroke="#fdb093" stroke-width="0.25"/>
<rect x="569.57" y="335.55" width="2.19" height="0.45" fill="#fd8a5e" stroke="#fdb093" stroke-width="0.25"/>
<rect x="571.76" y="335.55" width="2.19" height="0.45" fill="#fd8a5e" stroke="#fdb093" stroke-width="0.25"/>
<rect x="573.95" y="335.67" width="2.19" height="0.33" fill="#fd8a5e" stroke="#fdb093" stroke-width="0.25"/>
<rect x="576.14" y="335.69" width="2.19" height="0.31" fill="#fd8a5e" stroke="#fdb093" stroke-width="0.25"/>
<rect x="578.33" y="335.74" width="2.19" height="0.26" fill="#fd8a5e" stroke="#fdb093" stroke-width="0.25"/>
<rect x="580.52" y="335.76" width="2.19" height="0.24" fill="#fd8a5e" stroke="#fdb093" stroke-width="0.25"/>
<rect x="582.71" y="335.59" width="2.19" height="0.41" fill="#fd8a5e" stroke="#fdb093" stroke-width="0.25"/>
<rect x="584.90" y="335.63" width="2.19" height="0.37" fill="#fd8a5e" stroke="#fdb093" stroke-width="0.25"/>
<rect x="587.09" y="335.67" width="2.19" height="0.33" fill="#fd8a5e" stroke="#fdb093" stroke-width="0.25"/>
<rect x="589.28" y="335.73" width="2.19" height="0.27" fill="#fd8a5e" stroke="#fdb093" stroke-width="0.25"/>
<rect x="591.47" y="335.63" width="2.19" height="0.37" fill="#fd8a5e" stroke="#fdb093" stroke-width="0.25"/>
<rect x="593.66" y="335.63" width="2.19" height="0.37" fill="#fd8a5e" stroke="#fdb093" stroke-width="0.25"/>
<rect x="595.85" y="335.73" width="2.19" height="0.27" fill="#fd8a5e" stroke="#fdb093" stroke-width="0.25"/>
<rect x="598.04" y="335.63" width="2.19" height="0.37" fill="#fd8a5e" stroke="#fdb093" stroke-width="0.25"/>
<rect x="600.23" y="335.74" width="2.19" height="0.26" fill="#fd8a5e" stroke="#fdb093" stroke-width="0.25"/>
<rect x="602.42" y="335.71" width="2.19" height="0.29" fill="#fd8a5e" stroke="#fdb093" stroke-width="0.25"/>
<rect x="604.61" y="335.71" width="2.19" height="0.29" fill="#fd8a5e" stroke="#fdb093" stroke-width="0.25"/>
<rect x="606.80" y="335.63" width="2.19" height="0.37" fill="#fd8a5e" stroke="#fdb093" stroke-width="0.25"/>
<rect x="608.99" y="335.63" width="2.19" height="0.37" fill="#fd8a5e" stroke="#fdb093" stroke-width="0.25"/>
<rect x="611.18" y="335.67" width="2.19" height="0.33" fill="#fd8a5e" stroke="#fdb093" stroke-width="0.25"/>
<rect x="613.37" y="335.64" width="2.19" height="0.36" fill="#fd8a5e" stroke="#fdb093" stroke-width="0.25"/>
<rect x="615.56" y="335.72" width="2.19" height="0.28" fill="#fd8a5e" stroke="#fdb093" stroke-width="0.25"/>
<rect x="617.75" y="335.75" width="2.19" height="0.25" fill="#fd8a5e" stroke="#fdb093" stroke-width="0.25"/>
<rect x="619.94" y="335.55" width="2.19" height="0.45" fill="#fd8a5e" stroke="#fdb093" stroke-width="0.25"/>
<rect x="622.13" y="335.63" width="2.19" height="0.37" fill="#fd8a5e" stroke="#fdb093" stroke-width="0.25"/>
<rect x="624.32" y="335.68" width="2.19" height="0.32" fill="#fd8a5e" stroke="#fdb093" stroke-width="0.25"/>
<rect x="626.51" y="335.68" width="2.19" height="0.32" fill="#fd8a5e" stroke="#fdb093" stroke-width="0.25"/>
<rect x="628.70" y="335.68" width="2.19" height="0.32" fill="#fd8a5e" stroke="#fdb093" stroke-width="0.25"/>
<rect x="630.89" y="335.69" width="2.19" height="0.31" fill="#fd8a5e" stroke="#fdb093" stroke-width="0.25"/>
<rect x="633.08" y="335.70" width="2.19" height="0.30" fill="#fd8a5e" stroke="#fdb093" stroke-width="0.25"/>
<rect x="635.27" y="335.70" width="2.19" height="0.30" fill="#fd8a5e" stroke="#fdb093" stroke-width="0.25"/>
<rect x="637.46" y="335.63" width="2.19" height="0.37" fill="#fd8a5e" stroke="#fdb093" stroke-width="0.25"/>
<rect x="639.65" y="335.70" width="2.19" height="0.30" fill="#fd8a5e" stroke="#fdb093" stroke-width="0.25"/>
<rect x="641.84" y="335.69" width="2.19" height="0.31" fill="#fd8a5e" stroke="#fdb093" stroke-width="0.25"/>
<rect x="644.03" y="335.59" width="2.19" height="0.41" fill="#fd8a5e" stroke="#fdb093" stroke-width="0.25"/>
<rect x="646.22" y="335.69" width="2.19" height="0.31" fill="#fd8a5e" stroke="#fdb093" stroke-width="0.25"/>
<rect x="648.41" y="335.67" width="2.19" height="0.33" fill="#fd8a5e" stroke="#fdb093" stroke-width="0.25"/>
<rect x="650.60" y="335.71" width="2.19" height="0.29" fill="#fd8a5e" stroke="#fdb093" stroke-width="0.25"/>
<rect x="518.95" y="165.15" width="2.7" height="170.85" fill="#000"/>
<line x1="513.20" y1="157.20" x2="513.20" y2="336.50" stroke="#000" stroke-width="1.1" />
<line x1="512.70" y1="336.00" x2="659.30" y2="336.00" stroke="#000" stroke-width="1.1" />
<line x1="509.00" y1="336.00" x2="513.20" y2="336.00" stroke="#000" stroke-width="1.0" />
<text x="504.20" y="339.40" font-size="9.6" text-anchor="end" fill="#000"  class="tk">0</text>
<line x1="509.00" y1="315.90" x2="513.20" y2="315.90" stroke="#000" stroke-width="1.0" />
<text x="504.20" y="319.30" font-size="9.6" text-anchor="end" fill="#000"  class="tk">2500</text>
<line x1="509.00" y1="295.80" x2="513.20" y2="295.80" stroke="#000" stroke-width="1.0" />
<text x="504.20" y="299.20" font-size="9.6" text-anchor="end" fill="#000"  class="tk">5000</text>
<line x1="509.00" y1="275.70" x2="513.20" y2="275.70" stroke="#000" stroke-width="1.0" />
<text x="504.20" y="279.10" font-size="9.6" text-anchor="end" fill="#000"  class="tk">7500</text>
<line x1="509.00" y1="255.60" x2="513.20" y2="255.60" stroke="#000" stroke-width="1.0" />
<text x="504.20" y="259.00" font-size="9.6" text-anchor="end" fill="#000"  class="tk">10000</text>
<line x1="509.00" y1="235.50" x2="513.20" y2="235.50" stroke="#000" stroke-width="1.0" />
<text x="504.20" y="238.90" font-size="9.6" text-anchor="end" fill="#000"  class="tk">12500</text>
<line x1="509.00" y1="215.40" x2="513.20" y2="215.40" stroke="#000" stroke-width="1.0" />
<text x="504.20" y="218.80" font-size="9.6" text-anchor="end" fill="#000"  class="tk">15000</text>
<line x1="509.00" y1="195.30" x2="513.20" y2="195.30" stroke="#000" stroke-width="1.0" />
<text x="504.20" y="198.70" font-size="9.6" text-anchor="end" fill="#000"  class="tk">17500</text>
<line x1="509.00" y1="175.20" x2="513.20" y2="175.20" stroke="#000" stroke-width="1.0" />
<text x="504.20" y="178.60" font-size="9.6" text-anchor="end" fill="#000"  class="tk">20000</text>
<line x1="520.30" y1="336.00" x2="520.30" y2="340.30" stroke="#000" stroke-width="1.0" />
<text x="520.30" y="352.60" font-size="9.6" text-anchor="middle" fill="#000"  class="tk">0</text>
<line x1="564.10" y1="336.00" x2="564.10" y2="340.30" stroke="#000" stroke-width="1.0" />
<text x="564.10" y="352.60" font-size="9.6" text-anchor="middle" fill="#000"  class="tk">20</text>
<line x1="607.90" y1="336.00" x2="607.90" y2="340.30" stroke="#000" stroke-width="1.0" />
<text x="607.90" y="352.60" font-size="9.6" text-anchor="middle" fill="#000"  class="tk">40</text>
<line x1="651.70" y1="336.00" x2="651.70" y2="340.30" stroke="#000" stroke-width="1.0" />
<text x="651.70" y="352.60" font-size="9.6" text-anchor="middle" fill="#000"  class="tk">60</text>
<text x="586.00" y="367.50" font-size="10.95" text-anchor="middle" fill="#000" >Expected contacts k (per three months)</text>
<text transform="translate(469.3,246.2) rotate(-90)" x="0" y="0" font-size="10.95" text-anchor="middle">Number of nodes with degree k</text>
<polyline points="537.4,309.3 535.7,313.1 537.4,316.9" fill="none" stroke="#000" stroke-width="0.85" stroke-linejoin="miter"/>
<text x="539.5" y="316.5" font-size="11" font-style="italic">k</text>
<polyline points="546.3,309.3 548.2,313.1 546.3,316.9" fill="none" stroke="#000" stroke-width="0.85" stroke-linejoin="miter"/>
<line x1="552.80" y1="312.40" x2="559.60" y2="312.40" stroke="#000" stroke-width="0.9" />
<line x1="552.80" y1="314.80" x2="559.60" y2="314.80" stroke="#000" stroke-width="0.9" />
<text x="562.80" y="316.40" font-size="11.2" text-anchor="start" fill="#000" >4.93</text>
<text x="535.30" y="325.30" font-size="11.2" text-anchor="start" fill="#000" >(</text>
<polyline points="541.4,318.4 539.5,322.5 541.4,326.7" fill="none" stroke="#000" stroke-width="0.85" stroke-linejoin="miter"/>
<text x="542.7" y="325.6" font-size="11" font-style="italic">k</text>
<text x="548.70" y="327.30" font-size="8" text-anchor="start" fill="#000" >0</text>
<polyline points="555.4,318.4 557.3,322.5 555.4,326.7" fill="none" stroke="#000" stroke-width="0.85" stroke-linejoin="miter"/>
<line x1="562.10" y1="321.30" x2="569.00" y2="321.30" stroke="#000" stroke-width="0.9" />
<line x1="562.10" y1="323.70" x2="569.00" y2="323.70" stroke="#000" stroke-width="0.9" />
<text x="571.60" y="325.30" font-size="11.2" text-anchor="start" fill="#000" >3.17)</text>
<rect x="566" y="183" width="104" height="94" fill="#fff"/>
<rect x="570.69" y="192.90" width="1.576" height="84.20" fill="#fd8a5e" stroke="#fdb093" stroke-width="0.2"/>
<rect x="572.26" y="197.30" width="1.576" height="79.80" fill="#fd8a5e" stroke="#fdb093" stroke-width="0.2"/>
<rect x="573.84" y="201.70" width="1.576" height="75.40" fill="#fd8a5e" stroke="#fdb093" stroke-width="0.2"/>
<rect x="575.42" y="206.10" width="1.576" height="71.00" fill="#fd8a5e" stroke="#fdb093" stroke-width="0.2"/>
<rect x="576.99" y="209.60" width="1.576" height="67.50" fill="#fd8a5e" stroke="#fdb093" stroke-width="0.2"/>
<rect x="578.57" y="213.10" width="1.576" height="64.00" fill="#fd8a5e" stroke="#fdb093" stroke-width="0.2"/>
<rect x="580.14" y="216.30" width="1.576" height="60.80" fill="#fd8a5e" stroke="#fdb093" stroke-width="0.2"/>
<rect x="581.72" y="219.30" width="1.576" height="57.80" fill="#fd8a5e" stroke="#fdb093" stroke-width="0.2"/>
<rect x="583.30" y="221.90" width="1.576" height="55.20" fill="#fd8a5e" stroke="#fdb093" stroke-width="0.2"/>
<rect x="584.87" y="224.50" width="1.576" height="52.60" fill="#fd8a5e" stroke="#fdb093" stroke-width="0.2"/>
<rect x="586.45" y="227.20" width="1.576" height="49.90" fill="#fd8a5e" stroke="#fdb093" stroke-width="0.2"/>
<rect x="588.02" y="229.30" width="1.576" height="47.80" fill="#fd8a5e" stroke="#fdb093" stroke-width="0.2"/>
<rect x="589.60" y="231.00" width="1.576" height="46.10" fill="#fd8a5e" stroke="#fdb093" stroke-width="0.2"/>
<rect x="591.18" y="232.50" width="1.576" height="44.60" fill="#fd8a5e" stroke="#fdb093" stroke-width="0.2"/>
<rect x="592.75" y="234.20" width="1.576" height="42.90" fill="#fd8a5e" stroke="#fdb093" stroke-width="0.2"/>
<rect x="594.33" y="236.00" width="1.576" height="41.10" fill="#fd8a5e" stroke="#fdb093" stroke-width="0.2"/>
<rect x="595.90" y="237.20" width="1.576" height="39.90" fill="#fd8a5e" stroke="#fdb093" stroke-width="0.2"/>
<rect x="597.48" y="238.10" width="1.576" height="39.00" fill="#fd8a5e" stroke="#fdb093" stroke-width="0.2"/>
<rect x="599.06" y="239.10" width="1.576" height="38.00" fill="#fd8a5e" stroke="#fdb093" stroke-width="0.2"/>
<rect x="600.63" y="241.20" width="1.576" height="35.90" fill="#fd8a5e" stroke="#fdb093" stroke-width="0.2"/>
<rect x="602.21" y="240.40" width="1.576" height="36.70" fill="#fd8a5e" stroke="#fdb093" stroke-width="0.2"/>
<rect x="603.78" y="242.10" width="1.576" height="35.00" fill="#fd8a5e" stroke="#fdb093" stroke-width="0.2"/>
<rect x="605.36" y="241.20" width="1.576" height="35.90" fill="#fd8a5e" stroke="#fdb093" stroke-width="0.2"/>
<rect x="606.94" y="241.20" width="1.576" height="35.90" fill="#fd8a5e" stroke="#fdb093" stroke-width="0.2"/>
<rect x="608.51" y="243.90" width="1.576" height="33.20" fill="#fd8a5e" stroke="#fdb093" stroke-width="0.2"/>
<rect x="610.09" y="244.50" width="1.576" height="32.60" fill="#fd8a5e" stroke="#fdb093" stroke-width="0.2"/>
<rect x="611.66" y="246.00" width="1.576" height="31.10" fill="#fd8a5e" stroke="#fdb093" stroke-width="0.2"/>
<rect x="613.24" y="246.80" width="1.576" height="30.30" fill="#fd8a5e" stroke="#fdb093" stroke-width="0.2"/>
<rect x="614.82" y="242.00" width="1.576" height="35.10" fill="#fd8a5e" stroke="#fdb093" stroke-width="0.2"/>
<rect x="616.39" y="243.00" width="1.576" height="34.10" fill="#fd8a5e" stroke="#fdb093" stroke-width="0.2"/>
<rect x="617.97" y="243.90" width="1.576" height="33.20" fill="#fd8a5e" stroke="#fdb093" stroke-width="0.2"/>
<rect x="619.54" y="245.80" width="1.576" height="31.30" fill="#fd8a5e" stroke="#fdb093" stroke-width="0.2"/>
<rect x="621.12" y="243.00" width="1.576" height="34.10" fill="#fd8a5e" stroke="#fdb093" stroke-width="0.2"/>
<rect x="622.70" y="243.00" width="1.576" height="34.10" fill="#fd8a5e" stroke="#fdb093" stroke-width="0.2"/>
<rect x="624.27" y="245.80" width="1.576" height="31.30" fill="#fd8a5e" stroke="#fdb093" stroke-width="0.2"/>
<rect x="625.85" y="243.00" width="1.576" height="34.10" fill="#fd8a5e" stroke="#fdb093" stroke-width="0.2"/>
<rect x="627.42" y="246.00" width="1.576" height="31.10" fill="#fd8a5e" stroke="#fdb093" stroke-width="0.2"/>
<rect x="629.00" y="245.20" width="1.576" height="31.90" fill="#fd8a5e" stroke="#fdb093" stroke-width="0.2"/>
<rect x="630.58" y="245.20" width="1.576" height="31.90" fill="#fd8a5e" stroke="#fdb093" stroke-width="0.2"/>
<rect x="632.15" y="243.00" width="1.576" height="34.10" fill="#fd8a5e" stroke="#fdb093" stroke-width="0.2"/>
<rect x="633.73" y="243.00" width="1.576" height="34.10" fill="#fd8a5e" stroke="#fdb093" stroke-width="0.2"/>
<rect x="635.30" y="243.90" width="1.576" height="33.20" fill="#fd8a5e" stroke="#fdb093" stroke-width="0.2"/>
<rect x="636.88" y="243.20" width="1.576" height="33.90" fill="#fd8a5e" stroke="#fdb093" stroke-width="0.2"/>
<rect x="638.46" y="245.30" width="1.576" height="31.80" fill="#fd8a5e" stroke="#fdb093" stroke-width="0.2"/>
<rect x="640.03" y="246.30" width="1.576" height="30.80" fill="#fd8a5e" stroke="#fdb093" stroke-width="0.2"/>
<rect x="641.61" y="241.10" width="1.576" height="36.00" fill="#fd8a5e" stroke="#fdb093" stroke-width="0.2"/>
<rect x="643.18" y="243.00" width="1.576" height="34.10" fill="#fd8a5e" stroke="#fdb093" stroke-width="0.2"/>
<rect x="644.76" y="244.20" width="1.576" height="32.90" fill="#fd8a5e" stroke="#fdb093" stroke-width="0.2"/>
<rect x="646.34" y="244.20" width="1.576" height="32.90" fill="#fd8a5e" stroke="#fdb093" stroke-width="0.2"/>
<rect x="647.91" y="244.20" width="1.576" height="32.90" fill="#fd8a5e" stroke="#fdb093" stroke-width="0.2"/>
<rect x="649.49" y="244.40" width="1.576" height="32.70" fill="#fd8a5e" stroke="#fdb093" stroke-width="0.2"/>
<rect x="651.06" y="244.90" width="1.576" height="32.20" fill="#fd8a5e" stroke="#fdb093" stroke-width="0.2"/>
<rect x="652.64" y="244.90" width="1.576" height="32.20" fill="#fd8a5e" stroke="#fdb093" stroke-width="0.2"/>
<rect x="654.22" y="243.00" width="1.576" height="34.10" fill="#fd8a5e" stroke="#fdb093" stroke-width="0.2"/>
<rect x="655.79" y="244.90" width="1.576" height="32.20" fill="#fd8a5e" stroke="#fdb093" stroke-width="0.2"/>
<rect x="657.37" y="244.40" width="1.576" height="32.70" fill="#fd8a5e" stroke="#fdb093" stroke-width="0.2"/>
<rect x="658.94" y="242.00" width="1.576" height="35.10" fill="#fd8a5e" stroke="#fdb093" stroke-width="0.2"/>
<rect x="660.52" y="244.40" width="1.576" height="32.70" fill="#fd8a5e" stroke="#fdb093" stroke-width="0.2"/>
<rect x="662.10" y="243.90" width="1.576" height="33.20" fill="#fd8a5e" stroke="#fdb093" stroke-width="0.2"/>
<rect x="663.67" y="245.00" width="1.576" height="32.10" fill="#fd8a5e" stroke="#fdb093" stroke-width="0.2"/>
<rect x="568.90" y="188.0" width="2.0" height="89.10" fill="#000"/>
<line x1="565.20" y1="184.30" x2="565.20" y2="277.60" stroke="#000" stroke-width="1.1" />
<line x1="564.70" y1="277.10" x2="670.00" y2="277.10" stroke="#000" stroke-width="1.1" />
<line x1="561.00" y1="277.10" x2="565.20" y2="277.10" stroke="#000" stroke-width="1.0" />
<text x="556.80" y="280.50" font-size="9.6" text-anchor="end" fill="#000"  class="tk">0</text>
<line x1="561.00" y1="236.00" x2="565.20" y2="236.00" stroke="#000" stroke-width="1.0" />
<text x="556.80" y="239.40" font-size="9.6" text-anchor="end" fill="#000"  class="tk">2</text>
<line x1="561.00" y1="194.90" x2="565.20" y2="194.90" stroke="#000" stroke-width="1.0" />
<text x="556.80" y="198.30" font-size="9.6" text-anchor="end" fill="#000"  class="tk">4</text>
<line x1="569.90" y1="277.10" x2="569.90" y2="281.40" stroke="#000" stroke-width="1.0" />
<text x="569.90" y="293.80" font-size="9.6" text-anchor="middle" fill="#000"  class="tk">0</text>
<line x1="609.30" y1="277.10" x2="609.30" y2="281.40" stroke="#000" stroke-width="1.0" />
<text x="609.30" y="293.80" font-size="9.6" text-anchor="middle" fill="#000"  class="tk">25</text>
<line x1="648.70" y1="277.10" x2="648.70" y2="281.40" stroke="#000" stroke-width="1.0" />
<text x="648.70" y="293.80" font-size="9.6" text-anchor="middle" fill="#000"  class="tk">50</text>
<text x="617.00" y="309.00" font-size="10.95" text-anchor="middle" fill="#000" >k</text>
<text transform="translate(540.6,231.2) rotate(-90)" x="0" y="0" font-size="11.3" text-anchor="middle">Number of nodes log<tspan font-size="7.6" dy="2.3">10</tspan></text>
</svg>
</body></html>
